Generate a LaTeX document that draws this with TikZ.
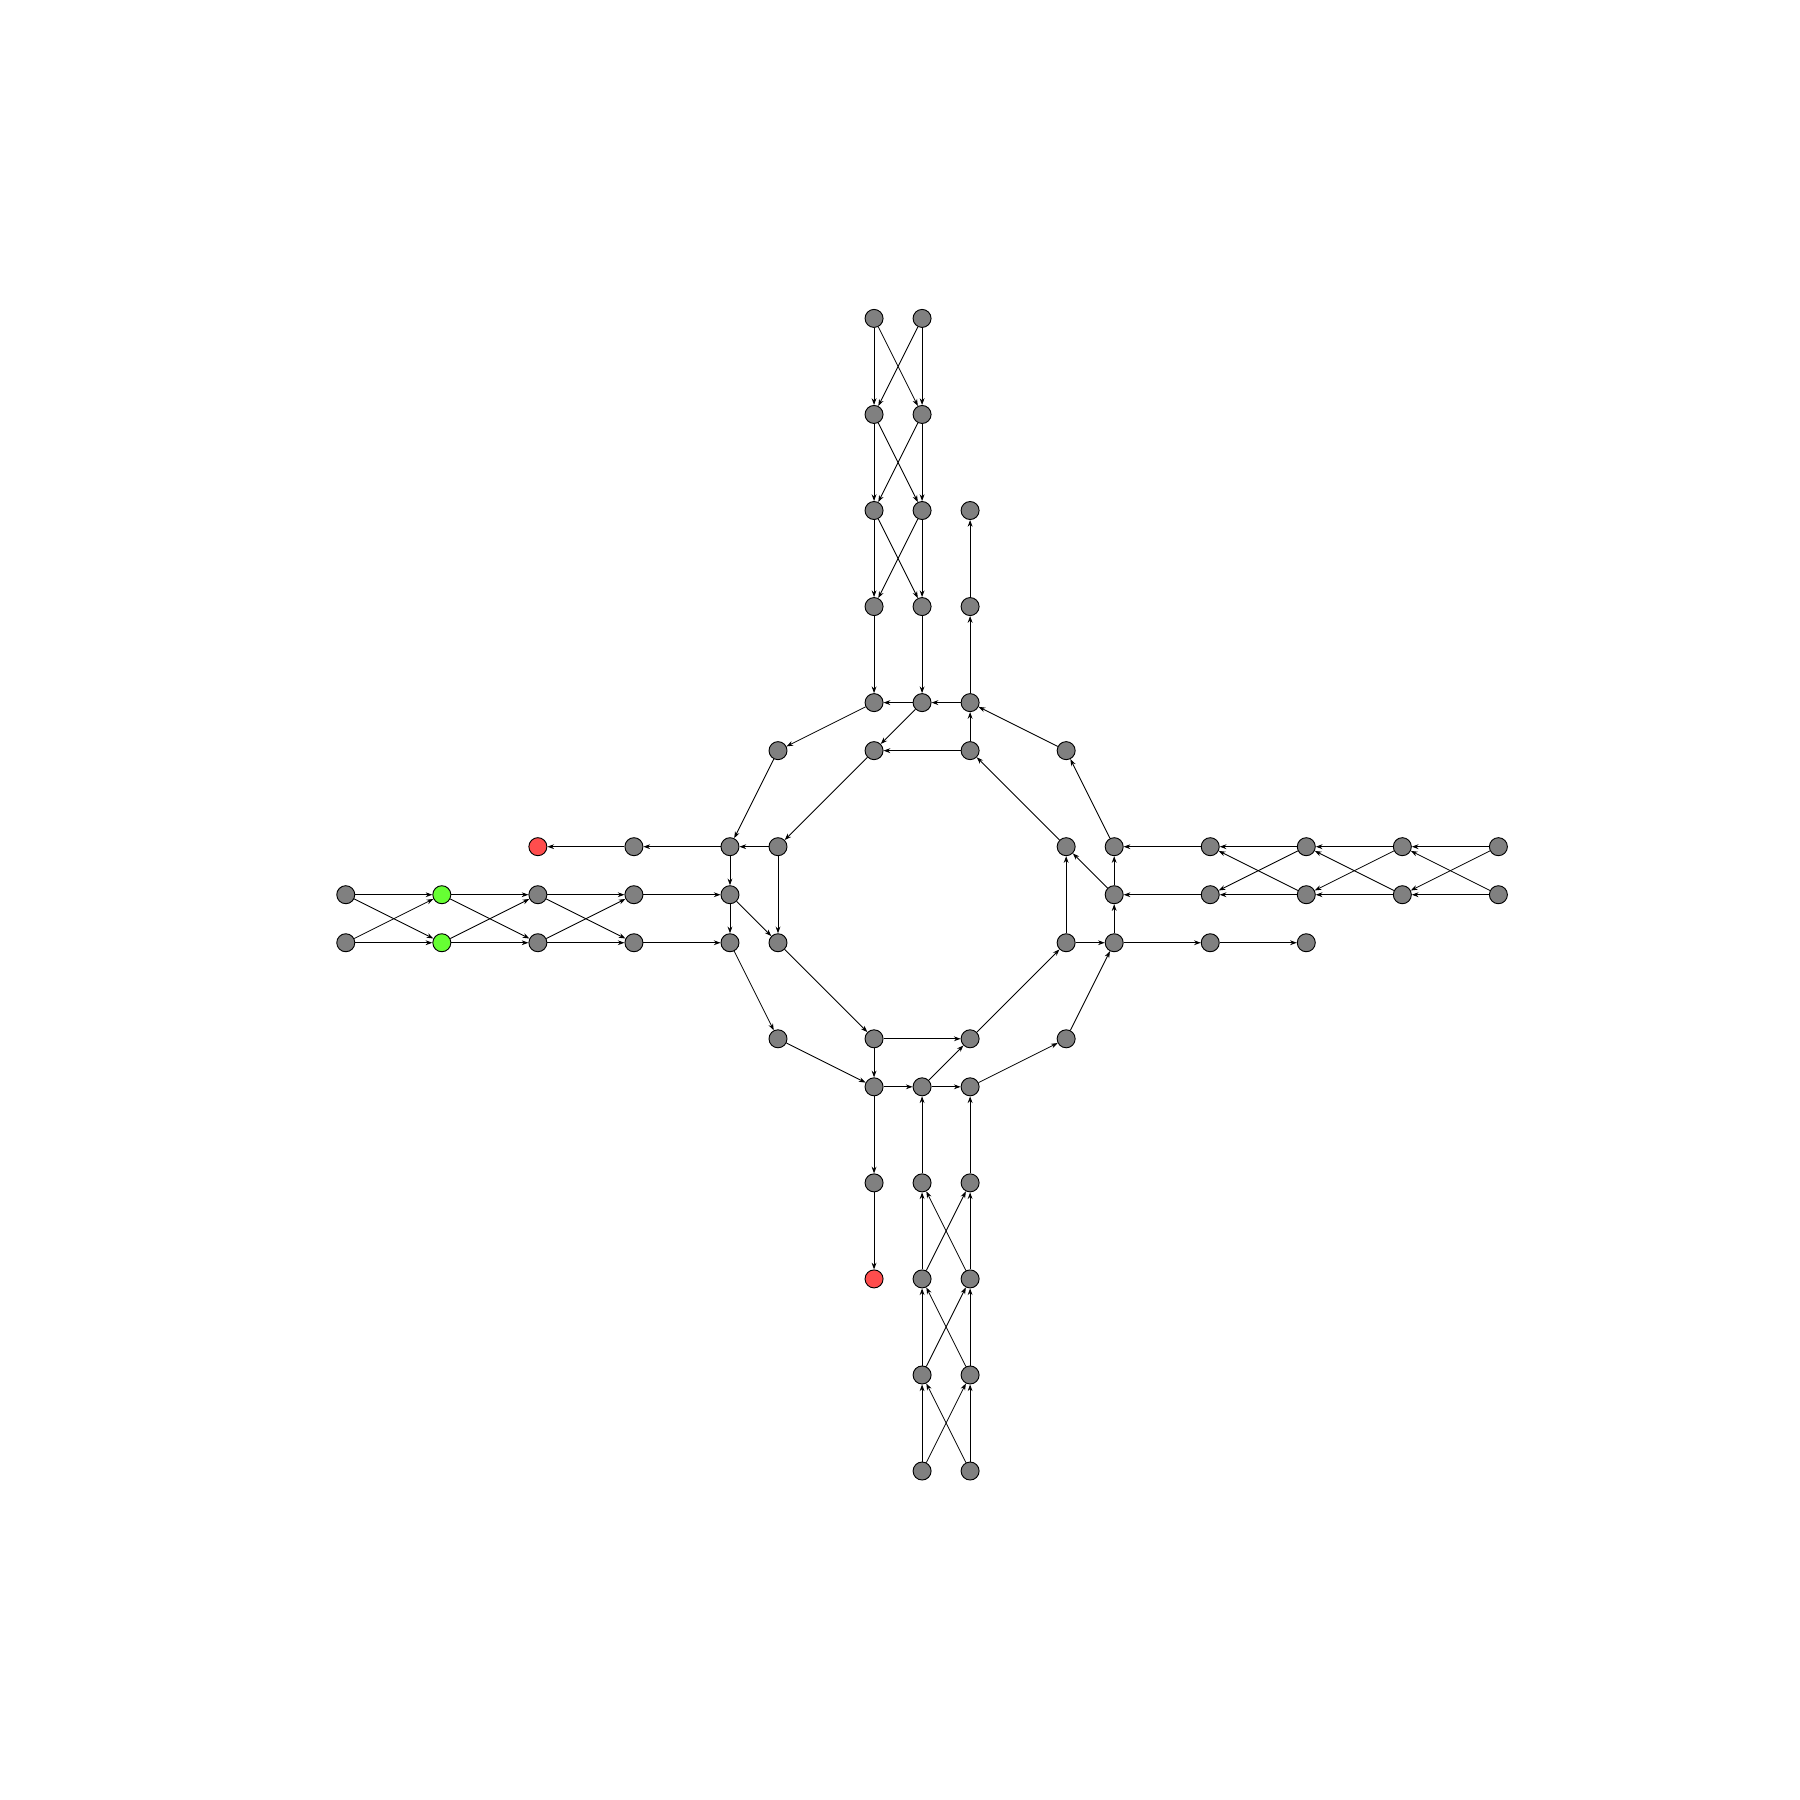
\documentclass[tikz,border=0pt]{standalone}
\usepackage{tikz}
\usetikzlibrary{arrows.meta}

\definecolor{vgray}{RGB}{128,128,128}
\definecolor{vgreen}{RGB}{102,255,51}
\definecolor{vred}{RGB}{255,77,77}

\tikzset{
  vert/.style={circle, draw=black, fill=vgray, line width=0.55pt,
               minimum size=0.375cm, inner sep=0pt},
  src/.style={vert, fill=vgreen},
  sink/.style={vert, fill=vred},
  link/.style={-{Stealth[length=0.14cm,width=0.1cm]}, line width=0.5pt}
}

\begin{document}
\begin{tikzpicture}[x=1cm, y=-1cm]
				\useasboundingbox (-18.20,-18.63) rectangle (19.28,18.85);

				% feeder blocks (two lanes each)
				\foreach \i/\r in {1/-12,2/-10,3/-8,4/-6} {
					\node[vert] (ta\i) at (0,\r) {};
					\node[vert] (tb\i) at (1,\r) {};
				}
				\foreach \i/\r in {1/12,2/10,3/8,4/6} {
					\node[vert] (ba\i) at (1,\r) {};
					\node[vert] (bb\i) at (2,\r) {};
				}
				\foreach \i/\c in {1/-11,3/-7,4/-5} {
					\node[vert] (la\i) at (\c,0) {};
					\node[vert] (lb\i) at (\c,1) {};
				}
				\node[src] (la2) at (-9,0) {};
				\node[src] (lb2) at (-9,1) {};
				\foreach \i/\c in {1/13,2/11,3/9,4/7} {
					\node[vert] (ra\i) at (\c,-1) {};
					\node[vert] (rb\i) at (\c,0) {};
				}

				% outer ring
				\node[vert] (oN1) at (0,-4) {};
				\node[vert] (oN2) at (1,-4) {};
				\node[vert] (oN3) at (2,-4) {};
				\node[vert] (oNW) at (-2,-3) {};
				\node[vert] (oWN) at (-3,-1) {};
				\node[vert] (oW) at (-3,0) {};
				\node[vert] (oWS) at (-3,1) {};
				\node[vert] (oSW) at (-2,3) {};
				\node[vert] (oS1) at (0,4) {};
				\node[vert] (oS2) at (1,4) {};
				\node[vert] (oS3) at (2,4) {};
				\node[vert] (oSE) at (4,3) {};
				\node[vert] (oES) at (5,1) {};
				\node[vert] (oE) at (5,0) {};
				\node[vert] (oEN) at (5,-1) {};
				\node[vert] (oNE) at (4,-3) {};

				% inner ring
				\node[vert] (iN1) at (0,-3) {};
				\node[vert] (iN2) at (2,-3) {};
				\node[vert] (iE1) at (4,-1) {};
				\node[vert] (iE2) at (4,1) {};
				\node[vert] (iS2) at (2,3) {};
				\node[vert] (iS1) at (0,3) {};
				\node[vert] (iW2) at (-2,1) {};
				\node[vert] (iW1) at (-2,-1) {};

				% exits
				\node[vert] (nx1) at (2,-6) {};
				\node[vert] (nx2) at (2,-8) {};
				\node[vert] (wx1) at (-5,-1) {};
				\node[sink] (wx2) at (-7,-1) {};
				\node[vert] (sx1) at (0,6) {};
				\node[sink] (sx2) at (0,8) {};
				\node[vert] (ex1) at (7,1) {};
				\node[vert] (ex2) at (9,1) {};

				% Draw lines
				\foreach \i/\j in {1/2,2/3,3/4} {
					\draw[link] (ta\i) -- (ta\j);
					\draw[link] (ta\i) -- (tb\j);
					\draw[link] (tb\i) -- (tb\j);
					\draw[link] (tb\i) -- (ta\j);
					\draw[link] (ba\i) -- (ba\j);
					\draw[link] (ba\i) -- (bb\j);
					\draw[link] (bb\i) -- (bb\j);
					\draw[link] (bb\i) -- (ba\j);
					\draw[link] (la\i) -- (la\j);
					\draw[link] (la\i) -- (lb\j);
					\draw[link] (lb\i) -- (lb\j);
					\draw[link] (lb\i) -- (la\j);
					\draw[link] (ra\i) -- (ra\j);
					\draw[link] (ra\i) -- (rb\j);
					\draw[link] (rb\i) -- (rb\j);
					\draw[link] (rb\i) -- (ra\j);
				}
				\draw[link] (ta4) -- (oN1);
				\draw[link] (tb4) -- (oN2);
				\draw[link] (ba4) -- (oS2);
				\draw[link] (bb4) -- (oS3);
				\draw[link] (la4) -- (oW);
				\draw[link] (lb4) -- (oWS);
				\draw[link] (ra4) -- (oEN);
				\draw[link] (rb4) -- (oE);

				\draw[link] (oN1) -- (oNW);
				\draw[link] (oNW) -- (oWN);
				\draw[link] (oWN) -- (oW);
				\draw[link] (oW) -- (oWS);
				\draw[link] (oWS) -- (oSW);
				\draw[link] (oSW) -- (oS1);
				\draw[link] (oS1) -- (oS2);
				\draw[link] (oS2) -- (oS3);
				\draw[link] (oS3) -- (oSE);
				\draw[link] (oSE) -- (oES);
				\draw[link] (oES) -- (oE);
				\draw[link] (oE) -- (oEN);
				\draw[link] (oEN) -- (oNE);
				\draw[link] (oNE) -- (oN3);
				\draw[link] (oN3) -- (oN2);
				\draw[link] (oN2) -- (oN1);

				\draw[link] (iN1) -- (iW1);
				\draw[link] (iW1) -- (iW2);
				\draw[link] (iW2) -- (iS1);
				\draw[link] (iS1) -- (iS2);
				\draw[link] (iS2) -- (iE2);
				\draw[link] (iE2) -- (iE1);
				\draw[link] (iE1) -- (iN2);
				\draw[link] (iN2) -- (iN1);

				\draw[link] (oN2) -- (iN1);
				\draw[link] (iN2) -- (oN3);
				\draw[link] (oE) -- (iE1);
				\draw[link] (iE2) -- (oES);
				\draw[link] (oS2) -- (iS2);
				\draw[link] (iS1) -- (oS1);
				\draw[link] (oW) -- (iW2);
				\draw[link] (iW1) -- (oWN);

				\draw[link] (oN3) -- (nx1);
				\draw[link] (nx1) -- (nx2);
				\draw[link] (oWN) -- (wx1);
				\draw[link] (wx1) -- (wx2);
				\draw[link] (oS1) -- (sx1);
				\draw[link] (sx1) -- (sx2);
				\draw[link] (oES) -- (ex1);
				\draw[link] (ex1) -- (ex2);
			\end{tikzpicture}
\end{document}
